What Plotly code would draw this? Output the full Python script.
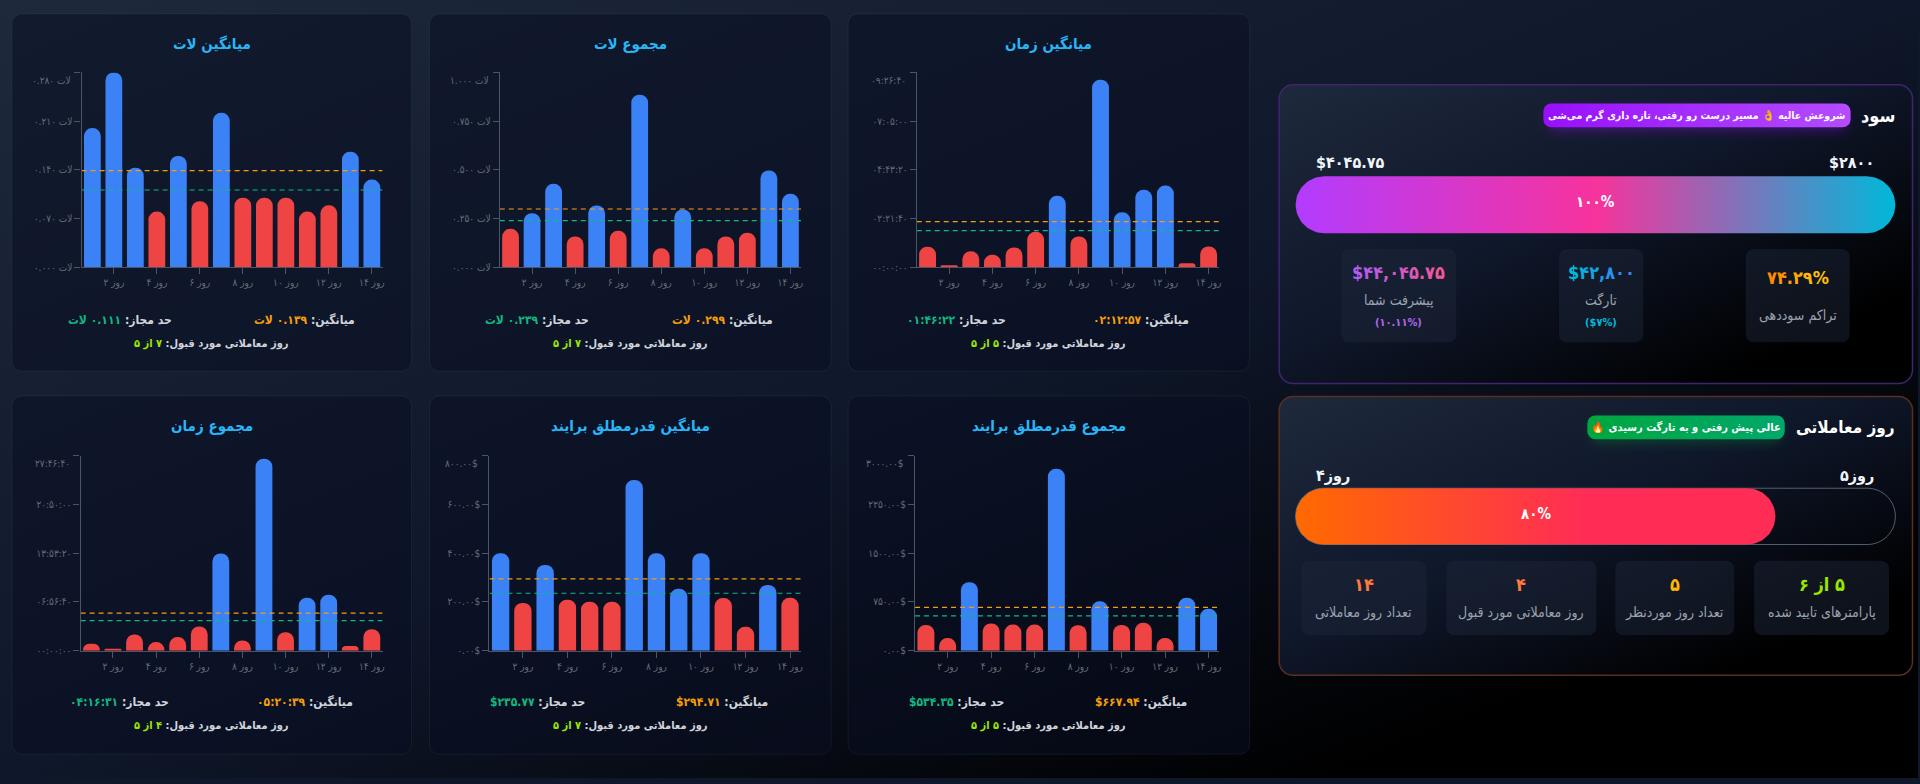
#!/usr/bin/env python3
"""Trading dashboard: six daily bar cards plus the profit and trading-day panels."""

import base64

import numpy as np
import plotly.graph_objects as go

# bar values per day
DAYS = list(range(1, 15))
DAY_TICKS = [2, 4, 6, 8, 10, 12, 14]
DAY_LABELS = ["۲ روز", "۴ روز", "۶ روز", "۸ روز", "۱۰ روز", "۱۲ روز", "۱۴ روز"]

AVG_LOT = [0.200, 0.280, 0.143, 0.080, 0.160, 0.095, 0.222, 0.100, 0.100, 0.100, 0.080, 0.089, 0.166, 0.126]
SUM_LOT = [0.197, 0.277, 0.428, 0.158, 0.317, 0.187, 0.886, 0.097, 0.297, 0.097, 0.158, 0.177, 0.497, 0.377]
AVG_TIME = [3579, 346, 2771, 2194, 3463, 6177, 12468, 5368, 32730, 9582, 13508, 14258, 693, 3637]
SUM_TIME = [3565, 509, 8319, 4414, 6961, 12394, 49915, 5263, 98472, 9507, 27165, 28693, 2377, 11036]
AVG_ABS = [400, 196, 352, 209, 201, 201, 701, 400, 254, 400, 216, 98, 270, 217]
SUM_ABS = [397, 194, 1054, 418, 402, 402, 2801, 392, 759, 397, 428, 194, 815, 647]

AVG_LOT_TICKS = [0, 0.07, 0.14, 0.21, 0.28]
AVG_LOT_LABELS = ["۰.۰۰۰ لات", "۰.۰۷۰ لات", "۰.۱۴۰ لات", "۰.۲۱۰ لات", "۰.۲۸۰ لات"]
SUM_LOT_TICKS = [0, 0.25, 0.5, 0.75, 1.0]
SUM_LOT_LABELS = ["۰.۰۰۰ لات", "۰.۲۵۰ لات", "۰.۵۰۰ لات", "۰.۷۵۰ لات", "۱.۰۰۰ لات"]
AVG_TIME_TICKS = [0, 8500, 17000, 25500, 34000]
AVG_TIME_LABELS = ["۰۰:۰۰:۰۰", "۰۲:۲۱:۴۰", "۰۴:۴۳:۲۰", "۰۷:۰۵:۰۰", "۰۹:۲۶:۴۰"]
SUM_TIME_TICKS = [0, 25000, 50000, 75000, 100000]
SUM_TIME_LABELS = ["۰۰:۰۰:۰۰", "۰۶:۵۶:۴۰", "۱۳:۵۳:۲۰", "۲۰:۵۰:۰۰", "۲۷:۴۶:۴۰"]
AVG_ABS_TICKS = [0, 200, 400, 600, 800]
AVG_ABS_LABELS = ["۰.۰۰$", "۲۰۰.۰۰$", "۴۰۰.۰۰$", "۶۰۰.۰۰$", "۸۰۰.۰۰$"]
SUM_ABS_TICKS = [0, 750, 1500, 2250, 3000]
SUM_ABS_LABELS = ["۰.۰۰$", "۷۵۰.۰۰$", "۱۵۰۰.۰۰$", "۲۲۵۰.۰۰$", "۳۰۰۰.۰۰$"]

PROFIT_PCT = 100
DAYS_PCT = 80

FONT = "DejaVu Sans Condensed, DejaVu Sans, sans-serif"
BLUE = "#3b82f6"
RED = "#ef4444"
ORANGE = "#f59e0b"
GREEN = "#10b981"
LIME = "#9ae600"
GREY = "#666c76"
LRE = "\u202a"
RLE = "\u202b"
PDF = "\u202c"
RLM = "\u200f"

W, H = 1920, 784

# one dict per card: card box, plot box (pixels) and its texts
CARDS = [
    dict(box=(12, 14, 412, 374), plot=(81.7, 73, 383, 269.3), title="میانگین لات", vals=AVG_LOT,
         ticks=AVG_LOT_TICKS, labels=AVG_LOT_LABELS, avg=0.139, limit=0.111,
         avg_text="۰.۱۳۹ لات", limit_text="۰.۱۱۱ لات", days="۷ از ۵"),
    dict(box=(430, 14, 832, 374), plot=(500.3, 73, 802, 269.3), title="مجموع لات", vals=SUM_LOT,
         ticks=SUM_LOT_TICKS, labels=SUM_LOT_LABELS, avg=0.299, limit=0.239,
         avg_text="۰.۲۹۹ لات", limit_text="۰.۲۳۹ لات", days="۷ از ۵"),
    dict(box=(849, 14, 1251, 374), plot=(917.7, 73, 1220.7, 269.3), title="میانگین زمان", vals=AVG_TIME,
         ticks=AVG_TIME_TICKS, labels=AVG_TIME_LABELS, avg=7977, limit=6382,
         avg_text="۰۲:۱۲:۵۷", limit_text="۰۱:۴۶:۲۲", days="۵ از ۵"),
    dict(box=(12, 399, 412, 760), plot=(80.7, 459.3, 383, 655.7), title="مجموع زمان", vals=SUM_TIME,
         ticks=SUM_TIME_TICKS, labels=SUM_TIME_LABELS, avg=19239, limit=15391,
         avg_text="۰۵:۲۰:۳۹", limit_text="۰۴:۱۶:۳۱", days="۴ از ۵"),
    dict(box=(430, 399, 832, 760), plot=(490, 459.3, 802, 655.7), title="میانگین قدرمطلق برایند", vals=AVG_ABS,
         ticks=AVG_ABS_TICKS, labels=AVG_ABS_LABELS, avg=294.71, limit=235.77,
         avg_text=LRE + "$۲۹۴.۷۱" + PDF, limit_text=LRE + "$۲۳۵.۷۷" + PDF, days="۷ از ۵"),
    dict(box=(849, 399, 1251, 760), plot=(916, 459.3, 1220.7, 655.7), title="مجموع قدرمطلق برایند", vals=SUM_ABS,
         ticks=SUM_ABS_TICKS, labels=SUM_ABS_LABELS, avg=667.94, limit=534.35,
         avg_text=LRE + "$۶۶۷.۹۴" + PDF, limit_text=LRE + "$۵۳۴.۳۵" + PDF, days="۵ از ۵"),
]


def rtl(text):
    # no closing mark: it would end up as an empty text piece after a span
    return RLE + text


def rounded_path(x0, y0, x1, y1, r):
    k = r * 0.45
    return (
        f"M{x0 + r},{y0} L{x1 - r},{y0} C{x1 - k},{y0} {x1},{y0 + k} {x1},{y0 + r} "
        f"L{x1},{y1 - r} C{x1},{y1 - k} {x1 - k},{y1} {x1 - r},{y1} "
        f"L{x0 + r},{y1} C{x0 + k},{y1} {x0},{y1 - k} {x0},{y1 - r} "
        f"L{x0},{y0 + r} C{x0},{y0 + k} {x0 + k},{y0} {x0 + r},{y0} Z"
    )


def add_box(fig, x0, y0, x1, y1, r, fill, line="rgba(0,0,0,0)", width=1):
    fig.add_shape(type="path", path=rounded_path(x0, y0, x1, y1, r), xref="x", yref="y",
                  fillcolor=fill, line=dict(color=line, width=width), layer="below")


def add_text(fig, x, y, text, size, color, anchor="center", weight=400):
    fig.add_annotation(x=x, y=y, xref="x", yref="y", text=text, showarrow=False, xanchor=anchor,
                       yanchor="middle", borderpad=0,
                       font=dict(family=FONT, size=size, color=color, weight=weight))


def gradient_text(text, start, stop):
    # plotly has no gradient on text, so colour it one character at a time
    c0 = np.array([int(start[i:i + 2], 16) for i in (1, 3, 5)])
    c1 = np.array([int(stop[i:i + 2], 16) for i in (1, 3, 5)])
    parts = []
    for i, ch in enumerate(text):
        c = c0 + (c1 - c0) * i / max(len(text) - 1, 1)
        parts.append(f'<span style="color:rgb({int(c[0])},{int(c[1])},{int(c[2])})">{ch}</span>')
    return "".join(parts)


def add_progress(fig, x0, y0, x1, y1, pct, stops):
    # rounded pill as a filled scatter, its right end set by the percentage
    r = (y1 - y0) / 2
    end = x0 + (x1 - x0) * pct / 100
    a = np.linspace(-np.pi / 2, np.pi / 2, 40)
    xs = np.concatenate([end - r + r * np.cos(a), x0 + r - r * np.cos(a)[::-1], [end - r]])
    ys = np.concatenate([y0 + r + r * np.sin(a), y0 + r - r * np.sin(a), [y0]])
    fig.add_trace(go.Scatter(x=xs, y=ys, mode="lines", fill="toself", line=dict(width=0),
                             fillgradient=dict(type="horizontal", colorscale=stops),
                             hoverinfo="skip", xaxis="x", yaxis="y"))


def page_background():
    svg = f"""<svg xmlns="http://www.w3.org/2000/svg" width="{W}" height="{H}" viewBox="0 0 {W} {H}">
<defs>
<linearGradient id="page" x1="0" y1="0" x2="1" y2="1">
<stop offset="0" stop-color="#1e293b"/><stop offset="0.5" stop-color="#0f172a"/><stop offset="0.85" stop-color="#000"/>
</linearGradient>
<linearGradient id="panel" x1="0" y1="0" x2="1" y2="1">
<stop offset="0" stop-color="#1e293b"/><stop offset="0.45" stop-color="#0f172a"/><stop offset="0.85" stop-color="#000"/>
</linearGradient>
<linearGradient id="purple" x1="0" x2="1"><stop offset="0" stop-color="#9810fa"/><stop offset="1" stop-color="#b44cff"/></linearGradient>
<linearGradient id="green" x1="0" x2="1"><stop offset="0" stop-color="#00a63e"/><stop offset="1" stop-color="#00a86b"/></linearGradient>
<filter id="blur" x="-20%" y="-100%" width="140%" height="300%"><feGaussianBlur stdDeviation="6"/></filter>
</defs>
<rect width="{W}" height="{H}" fill="url(#page)"/>
<rect x="1280.5" y="85.5" width="634" height="301" rx="14" fill="url(#panel)" stroke="#3f2570" stroke-width="1.5"/>
<rect x="1280.5" y="399.5" width="634" height="281" rx="14" fill="url(#panel)" stroke="#5a2f1e" stroke-width="1.5"/>
<rect x="1549" y="110" width="300" height="22" rx="8" fill="#9810fa" opacity="0.35" filter="url(#blur)"/>
<rect x="1593" y="424" width="190" height="22" rx="8" fill="#00a63e" opacity="0.3" filter="url(#blur)"/>
<rect x="1545" y="104.3" width="307.5" height="24" rx="8" fill="url(#purple)"/>
<rect x="1589" y="418.7" width="197.6" height="24" rx="8" fill="url(#green)"/>
</svg>"""
    return "data:image/svg+xml;base64," + base64.b64encode(svg.encode("utf-8")).decode("ascii")


fig = go.Figure()

# axis pair 1 spans the whole page in pixels, everything that is not a chart hangs on it
fig.update_layout(
    xaxis=dict(domain=[0, 1], range=[0, W], visible=False, fixedrange=True),
    yaxis=dict(domain=[0, 1], range=[H, 0], visible=False, fixedrange=True),
)

for i, card in enumerate(CARDS):
    n = i + 2
    left, top, right, bottom = card["plot"]
    x_name, y_name = f"x{n}", f"y{n}"
    axis_style = dict(showgrid=False, zeroline=False, showline=True, linecolor="#4b5563", linewidth=1.3,
                      ticks="outside", ticklen=6, tickwidth=1, tickcolor="#4b5563", fixedrange=True,
                      tickfont=dict(family=FONT, size=10, color=GREY), tickangle=0)
    fig.update_layout({
        f"xaxis{n}": dict(domain=[left / W, right / W], range=[0.5, 14.5], anchor=y_name,
                          tickmode="array", tickvals=DAY_TICKS, ticktext=DAY_LABELS, **axis_style),
        f"yaxis{n}": dict(domain=[1 - bottom / H, 1 - top / H], range=[0, card["ticks"][-1]], anchor=x_name,
                          tickmode="array", tickvals=card["ticks"],
                          ticktext=card["labels"][:-1] + [""], **axis_style),
    })

    colors = [BLUE if v >= card["limit"] else RED for v in card["vals"]]
    fig.add_trace(go.Bar(x=DAYS, y=card["vals"], marker=dict(color=colors, cornerradius=8, line=dict(width=0)),
                         width=0.78, xaxis=x_name, yaxis=y_name))
    for value, color in ((card["avg"], ORANGE), (card["limit"], GREEN)):
        fig.add_trace(go.Scatter(x=[0.5, 14.5], y=[value, value], mode="lines", xaxis=x_name, yaxis=y_name,
                                 line=dict(color=color, width=1.2, dash="5px,4px"), hoverinfo="skip"))

    # top label sits lower than its tick in the reference
    fig.add_annotation(x=0, xref=f"{x_name} domain", y=card["ticks"][-1], yref=y_name, xanchor="right",
                       yanchor="middle", xshift=-9, yshift=-8, showarrow=False, text=card["labels"][-1],
                       font=dict(family=FONT, size=10, color=GREY))

    x0, y0, x1, y1 = card["box"]
    add_box(fig, x0, y0, x1, y1, 10, "rgba(10,15,35,0.55)", "rgba(100,116,139,0.14)")
    mid = (x0 + x1) / 2
    add_text(fig, mid, y0 + 30, card["title"], 15, "#29b6f6", weight=700)
    add_text(fig, x0 + 293, y0 + 308,
             rtl(f'میانگین: <span style="color:{ORANGE}">{card["avg_text"]}</span>'), 12, "#d1d5db", weight=700)
    add_text(fig, x0 + 108, y0 + 308,
             rtl(f'حد مجاز: <span style="color:{GREEN}">{card["limit_text"]}</span>'), 12, "#d1d5db", weight=700)
    add_text(fig, mid, y0 + 332,
             rtl(f'روز معاملاتی مورد قبول: <span style="color:{LIME}">{card["days"]}</span>'), 11, "#d1d5db", weight=700)

# profit panel
add_text(fig, 1898, 116.7, "سود", 18, "#ffffff", anchor="right", weight=700)
add_text(fig, 1698.7, 116, rtl("شروعش عالیه 👌 مسیر درست رو رفتی، تازه داری گرم می‌شی"), 10.5, "#ffffff", weight=700)
add_text(fig, 1316, 163.7, "$۴۰۴۵.۷۵", 16, "#f1f5f9", anchor="left", weight=700)
add_text(fig, 1877.4, 163.7, "$۲۸۰۰", 16, "#f1f5f9", anchor="right", weight=700)
add_progress(fig, 1297, 177.7, 1897.3, 235, PROFIT_PCT,
             [[0, "#b23cff"], [0.5, "#f7339c"], [1, "#00b8d9"]])
add_text(fig, 1597.2, 204, "۱۰۰%", 15, "#ffffff", weight=700)

add_box(fig, 1747.6, 251, 1851.6, 345, 8, "rgba(30,41,59,0.45)")
add_box(fig, 1560.6, 251, 1645, 345, 8, "rgba(30,41,59,0.45)")
add_box(fig, 1342.6, 251, 1457.8, 345, 8, "rgba(30,41,59,0.45)")
add_text(fig, 1799.6, 279.3, gradient_text("۷۴.۲۹%", "#ff8c00", "#ffc107"), 18, "#ff9f0a", weight=700)
add_text(fig, 1799.6, 318, "تراکم سوددهی", 14, "#9ca3af")
add_text(fig, 1602.8, 275, gradient_text("$۴۲,۸۰۰", "#00b8d9", "#3b82f6"), 18, "#00b8d9", weight=700)
add_text(fig, 1602.8, 302.7, "تارگت", 14, "#9ca3af")
add_text(fig, 1602.8, 325, "($۷%)", 11, "#00b8d9", weight=700)
add_text(fig, 1400.2, 275, gradient_text("$۴۴,۰۴۵.۷۵", "#b45cf0", "#f0589c"), 18, "#c060d0", weight=700)
add_text(fig, 1400.2, 302.7, "پیشرفت شما", 14, "#9ca3af")
add_text(fig, 1400.2, 325, "(۱۰.۱۱%)", 11, "#b066f0", weight=700)

# trading days panel
add_text(fig, 1898, 430.7, "روز معاملاتی", 17, "#ffffff", anchor="right", weight=700)
add_text(fig, 1687.8, 430.5, rtl("عالی پیش رفتی و به تارگت رسیدی 🔥"), 11, "#ffffff", weight=700)
add_text(fig, 1316, 479, "روز۴", 16, "#f1f5f9", anchor="left", weight=700)
add_text(fig, 1877.4, 479, "روز۵", 16, "#f1f5f9", anchor="right", weight=700)
add_box(fig, 1297, 492, 1897.3, 548.7, 28, "rgba(0,0,0,0)", "rgba(148,163,184,0.55)", 1)
add_progress(fig, 1297, 492, 1897.3, 548.7, DAYS_PCT,
             [[0, "#ff6a00"], [0.6, "#ff2d55"], [1, "#ff2d55"]])
add_text(fig, 1297 + 600.3 * DAYS_PCT / 200, 518, "۸۰%", 15, "#ffffff", weight=700)

add_box(fig, 1755.9, 565, 1891, 640, 8, "rgba(30,41,59,0.45)")
add_box(fig, 1617, 565, 1736, 640, 8, "rgba(30,41,59,0.45)")
add_box(fig, 1447.9, 565, 1598, 640, 8, "rgba(30,41,59,0.45)")
add_box(fig, 1302.8, 565, 1428, 640, 8, "rgba(30,41,59,0.45)")
add_text(fig, 1823.4, 588.7, RLM + "۵ از ۶", 18, LIME, weight=700)
add_text(fig, 1823.4, 617, "پارامترهای تایید شده", 14, "#9ca3af")
add_text(fig, 1676.5, 588.7, "۵", 18, "#ffb703", weight=700)
add_text(fig, 1676.5, 617, "تعداد روز موردنظر", 14, "#9ca3af")
add_text(fig, 1523, 588.7, "۴", 18, "#ff7a3d", weight=700)
add_text(fig, 1523, 617, "روز معاملاتی مورد قبول", 14, "#9ca3af")
add_text(fig, 1365.4, 588.7, "۱۴", 18, "#ff7a3d", weight=700)
add_text(fig, 1365.4, 617, "تعداد روز معاملاتی", 14, "#9ca3af")

fig.update_layout(
    width=W,
    height=H,
    autosize=False,
    margin=dict(l=0, r=0, t=0, b=0),
    showlegend=False,
    paper_bgcolor="#0f172a",
    plot_bgcolor="rgba(0,0,0,0)",
    hovermode="closest",
    images=[dict(source=page_background(), xref="paper", yref="paper", x=0, y=1, sizex=1, sizey=1,
                 xanchor="left", yanchor="top", sizing="stretch", layer="below")],
)

fig.write_html("out.html", config=dict(displayModeBar=False),
               post_script="document.body.style.margin='0';document.body.style.overflow='hidden';")
